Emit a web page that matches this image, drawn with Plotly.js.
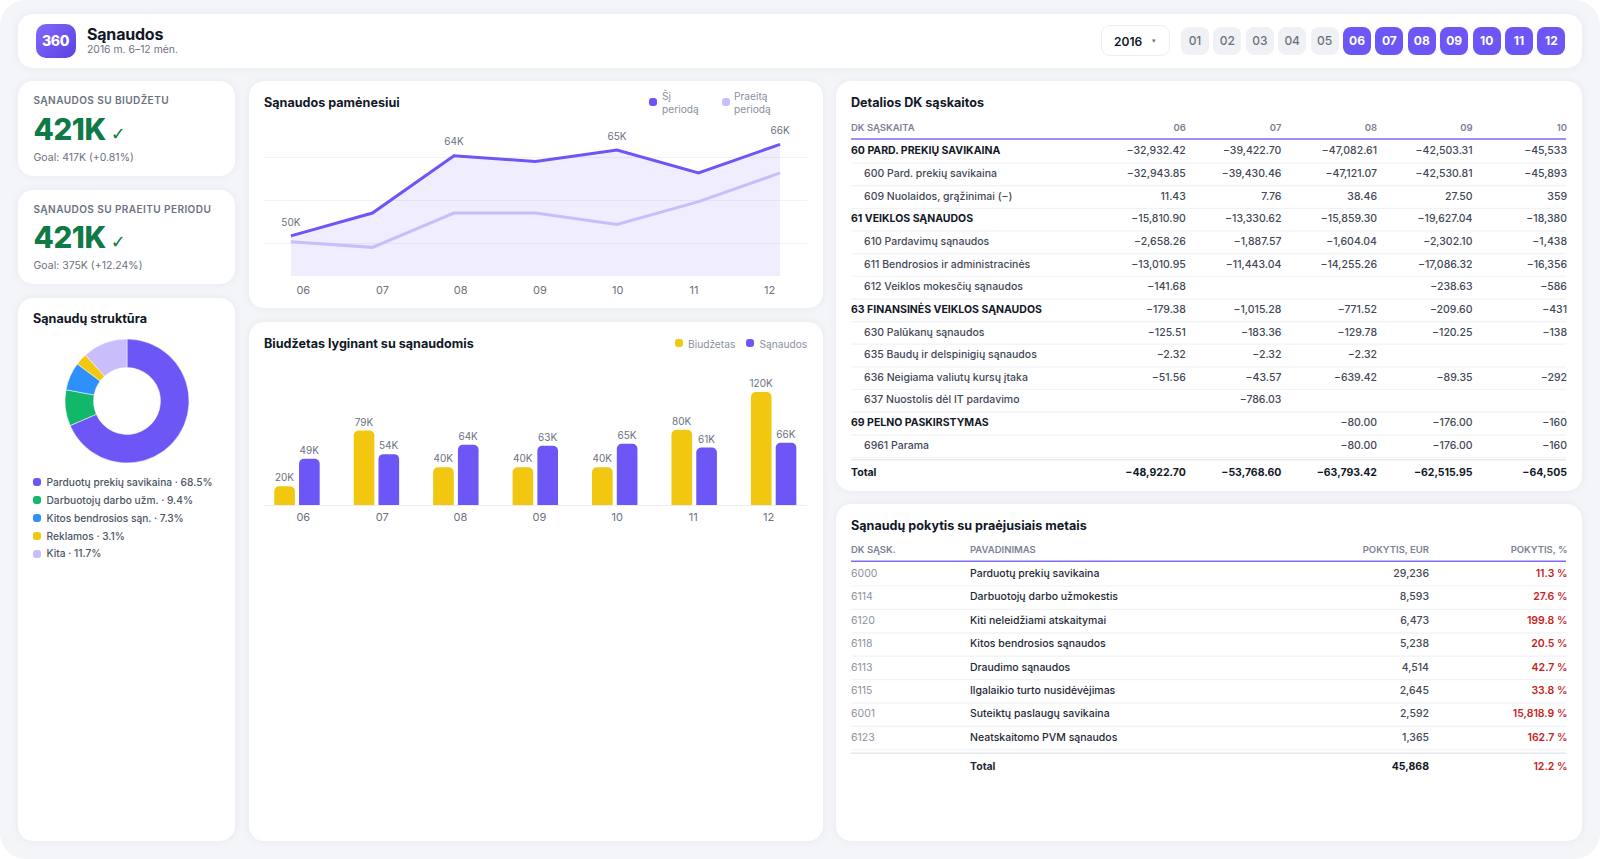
<!DOCTYPE html>
<html lang="lt">
<head>
<meta charset="utf-8">
<title>Sąnaudos</title>
<script src="https://cdn.plot.ly/plotly-3.0.1.min.js"></script>
<style>
  html,body{margin:0;padding:0;background:#fff;width:1600px;height:859px;overflow:hidden;font-family:Inter,"Noto Sans",sans-serif;}
  #app{position:absolute;left:0;top:0;width:1600px;height:859px;background:#f4f5f9;border-radius:26px;overflow:hidden;}
  .card{position:absolute;background:#fff;border-radius:15px;box-shadow:0 0 0 1px #eef0f5,0 0 10px rgba(30,35,70,.06);}
  .plot{position:absolute;left:0;top:0;width:100%;height:100%;}
  .abs{position:absolute;white-space:nowrap;}
  .kpi-label{left:15.5px;font-size:10.05px;font-weight:600;letter-spacing:.42px;color:#6b7280;}
  .kpi-value{left:15.5px;font-size:29.5px;font-weight:800;letter-spacing:-.4px;color:#0f7a46;line-height:36px;}
  .kpi-check{font-family:"DejaVu Sans",sans-serif;font-size:18px;font-weight:400;margin-left:5px;letter-spacing:0;}
  .kpi-goal{left:15.5px;font-size:10.5px;color:#6b7280;}
  .pill{position:absolute;top:13px;width:28px;height:28px;border-radius:8px;line-height:28px;text-align:center;font-size:12px;font-weight:500;color:#6b7280;background:#f0f1f5;}
  .pill.on{background:#6c56f5;color:#fff;font-weight:700;}
  .dot{position:absolute;width:8px;height:8px;border-radius:3px;}
  .lg{position:absolute;font-size:10.2px;color:#8a90a0;line-height:12.6px;white-space:nowrap;}
  .dl{position:absolute;font-size:10.2px;font-weight:500;color:#4b5563;white-space:nowrap;line-height:13px;}
</style>
</head>
<body>
<div id="app">
  <div class="card" style="left:18px;top:14px;width:1564px;height:54px;">
    <div class="abs" style="left:17.5px;top:10px;width:40px;height:34px;border-radius:10px;background:linear-gradient(135deg,#8468fb,#5a41e2);color:#fff;font-size:14px;font-weight:800;line-height:34px;text-align:center;letter-spacing:-.4px;">360</div>
    <div class="abs" style="left:69px;top:10px;font-size:16px;font-weight:700;color:#111827;line-height:20px;letter-spacing:-.2px;">Sąnaudos</div>
    <div class="abs" style="left:69px;top:29px;font-size:10.4px;color:#6b7280;line-height:14px;">2016 m. 6–12 mėn.</div>
    <div class="abs" style="left:1083px;top:11px;width:69px;height:31px;box-sizing:border-box;border:1px solid #eceef3;border-radius:9px;">
      <span class="abs" style="left:12px;top:7.5px;font-size:12px;font-weight:600;color:#111827;line-height:16px;">2016</span>
      <span class="abs" style="left:50px;top:7.5px;font-size:7px;color:#6b7280;line-height:14px;">▾</span>
    </div>
    <div id="pills"></div>
  </div>

  <div class="card" style="left:18px;top:81px;width:217px;height:95px;">
    <div class="abs kpi-label" style="top:13px;">SĄNAUDOS SU BIUDŽETU</div>
    <div class="abs kpi-value" style="top:30px;">421K<span class="kpi-check">✓</span></div>
    <div class="abs kpi-goal" style="top:70px;">Goal: 417K (+0.81%)</div>
  </div>
  <div class="card" style="left:18px;top:190px;width:217px;height:94px;">
    <div class="abs kpi-label" style="top:13px;">SĄNAUDOS SU PRAEITU PERIODU</div>
    <div class="abs kpi-value" style="top:29px;">421K<span class="kpi-check">✓</span></div>
    <div class="abs kpi-goal" style="top:69px;">Goal: 375K (+12.24%)</div>
  </div>

  <div class="card" style="left:18px;top:298px;width:217px;height:543px;">
    <div id="donut" class="plot"></div>
    <div id="donutLegend"></div>
  </div>
  <div class="card" style="left:249px;top:81px;width:574px;height:227px;">
    <div id="line" class="plot"></div>
    <div class="dot" style="left:400px;top:17px;background:#6c56f5;"></div>
    <div class="lg" style="left:413px;top:9px;">Šį<br>periodą</div>
    <div class="dot" style="left:472.5px;top:17px;background:#c9bdfc;"></div>
    <div class="lg" style="left:485px;top:9px;">Praeitą<br>periodą</div>
  </div>
  <div class="card" style="left:249px;top:322px;width:574px;height:519px;">
    <div id="bars" class="plot"></div>
    <div class="dot" style="left:426px;top:17px;background:#f2c70f;"></div>
    <div class="lg" style="left:439px;top:15.5px;">Biudžetas</div>
    <div class="dot" style="left:497px;top:17px;background:#6c56f5;"></div>
    <div class="lg" style="left:510.5px;top:15.5px;">Sąnaudos</div>
  </div>
  <div class="card" style="left:836px;top:81px;width:746px;height:410px;">
    <div id="dkTable" class="plot"></div>
  </div>
  <div class="card" style="left:836px;top:504px;width:746px;height:337px;">
    <div id="changeTable" class="plot"></div>
  </div>
</div>

<script>
// ---------- data ----------
const monthButtons = ['01','02','03','04','05','06','07','08','09','10','11','12'];
const activeMonths = ['06','07','08','09','10','11','12'];
const months = ['06','07','08','09','10','11','12'];

const thisPeriod = [50, 54, 64, 63, 65, 61, 66];
const lastPeriod = [49, 48, 54, 54, 52, 56, 61];
const lineLabels = ['50K','','64K','','65K','','66K'];

const budget = [20, 79, 40, 40, 40, 80, 120];
const spend  = [49, 54, 64, 63, 65, 61, 66];

const donutNames  = ['Parduotų prekių savikaina','Darbuotojų darbo užm.','Kitos bendrosios sąn.','Reklamos','Kita'];
const donutValues = [68.5, 9.4, 7.3, 3.1, 11.7];

const dkHeaders = ['DK SĄSKAITA','06','07','08','09','10'];
const dkRows = ['60 PARD. PREKIŲ SAVIKAINA','600 Pard. prekių savikaina','609 Nuolaidos, grąžinimai (−)','61 VEIKLOS SĄNAUDOS','610 Pardavimų sąnaudos','611 Bendrosios ir administracinės','612 Veiklos mokesčių sąnaudos','63 FINANSINĖS VEIKLOS SĄNAUDOS','630 Palūkanų sąnaudos','635 Baudų ir delspinigių sąnaudos','636 Neigiama valiutų kursų įtaka','637 Nuostolis dėl IT pardavimo','69 PELNO PASKIRSTYMAS','6961 Parama','Total'];
const dk06 = ['−32,932.42','−32,943.85','11.43','−15,810.90','−2,658.26','−13,010.95','−141.68','−179.38','−125.51','−2.32','−51.56','','','','−48,922.70'];
const dk07 = ['−39,422.70','−39,430.46','7.76','−13,330.62','−1,887.57','−11,443.04','','−1,015.28','−183.36','−2.32','−43.57','−786.03','','','−53,768.60'];
const dk08 = ['−47,082.61','−47,121.07','38.46','−15,859.30','−1,604.04','−14,255.26','','−771.52','−129.78','−2.32','−639.42','','−80.00','−80.00','−63,793.42'];
const dk09 = ['−42,503.31','−42,530.81','27.50','−19,627.04','−2,302.10','−17,086.32','−238.63','−209.60','−120.25','','−89.35','','−176.00','−176.00','−62,515.95'];
const dk10 = ['−45,533','−45,893','359','−18,380','−1,438','−16,356','−586','−431','−138','','−292','','−160','−160','−64,505'];

const chHeaders = ['DK SĄSK.','PAVADINIMAS','POKYTIS, EUR','POKYTIS, %'];
const chCodes = ['6000','6114','6120','6118','6113','6115','6001','6123',''];
const chNames = ['Parduotų prekių savikaina','Darbuotojų darbo užmokestis','Kiti neleidžiami atskaitymai','Kitos bendrosios sąnaudos','Draudimo sąnaudos','Ilgalaikio turto nusidėvėjimas','Suteiktų paslaugų savikaina','Neatskaitomo PVM sąnaudos','Total'];
const chEur = ['29,236','8,593','6,473','5,238','4,514','2,645','2,592','1,365','45,868'];
const chPct = ['11.3 %','27.6 %','199.8 %','20.5 %','42.7 %','33.8 %','15,818.9 %','162.7 %','12.2 %'];

// ---------- shared style ----------
const FONT = 'Inter, "Noto Sans", sans-serif';
const PURPLE = '#6c56f5', LAVENDER = '#c9bdfc', YELLOW = '#f2c70f';
const CONFIG = {displayModeBar:false, staticPlot:true, responsive:false};
function cardTitle(text, w, h, x, yc){
  return {text, font:{family:FONT,size:12.6,color:'#111827',weight:700},
    xref:'container', yref:'container', x:x/w, xanchor:'left', y:1-yc/h, yanchor:'middle', pad:{t:0,b:0,l:0,r:0}};
}
const baseLayout = {paper_bgcolor:'rgba(0,0,0,0)', plot_bgcolor:'rgba(0,0,0,0)', showlegend:false, font:{family:FONT}};

// ---------- header pills ----------
document.getElementById('pills').innerHTML = monthButtons.map((m,i)=>
  `<div class="pill ${activeMonths.includes(m)?'on':''}" style="left:${1163+i*32.4}px">${m}</div>`).join('');

// ---------- donut ----------
const donutColors = [PURPLE,'#12b76a','#2e90fa',YELLOW,LAVENDER];
Plotly.newPlot('donut',[{
  type:'pie', labels:donutNames, values:donutValues, hole:.54, sort:false, direction:'clockwise', rotation:0,
  textinfo:'none', marker:{colors:donutColors, line:{color:'#fff',width:.5}}
}],{...baseLayout, width:217, height:543,
  title:cardTitle('Sąnaudų struktūra',217,543,15,20.5),
  margin:{l:46.6,r:46.4,t:40.6,b:378.4}
},CONFIG);
document.getElementById('donutLegend').innerHTML = donutNames.map((n,i)=>{
  const y = 180.3 + i*17.9;
  return `<div class="dot" style="left:15px;top:${y}px;background:${donutColors[i]}"></div>`+
         `<div class="dl" style="left:28.5px;top:${y-2.5}px">${n} · ${donutValues[i]}%</div>`;
}).join('');

// ---------- line chart ----------
const monthIdx = months.map((_,i)=>i);
Plotly.newPlot('line',[
  {type:'scatter', mode:'lines+markers+text', x:monthIdx, y:thisPeriod, text:lineLabels, textposition:'top center',
   textfont:{family:FONT,size:10,color:'#6b7280'}, cliponaxis:false, marker:{size:11,color:'rgba(0,0,0,0)'},
   line:{color:PURPLE,width:3}, fill:'tozeroy', fillcolor:'rgba(108,86,245,.10)', name:'Šį periodą'},
  {type:'scatter', mode:'lines', x:monthIdx, y:lastPeriod, line:{color:LAVENDER,width:3}, name:'Praeitą periodą'}
],{...baseLayout, width:574, height:227,
  title:cardTitle('Sąnaudos pamėnesiui',574,227,15,21.7),
  margin:{l:15,r:15.5,t:45.3,b:32},
  xaxis:{type:'linear', range:[-.33,6.33], tickmode:'array',
    tickvals:[.152,1.122,2.083,3.053,4.009,4.943,5.87], ticktext:months,
    showgrid:false, zeroline:false, showline:false, ticks:'', ticklabelstandoff:6, tickfont:{family:FONT,size:11,color:'#6b7280'}},
  yaxis:{range:[43,69.2], tickmode:'array', tickvals:[48.75,56.25,63.75], showticklabels:false,
    gridcolor:'#f1f2f5', gridwidth:1, zeroline:false, showline:false, ticks:''}
},CONFIG);

// ---------- bar chart ----------
const kLabel = v => v+'K';
const barText = {family:FONT,size:10,color:'#6b7280'};
Plotly.newPlot('bars',[
  {type:'bar', x:monthIdx, y:budget, name:'Biudžetas', marker:{color:YELLOW}, text:budget.map(kLabel), textposition:'outside', textfont:barText, cliponaxis:false, constraintext:'none'},
  {type:'bar', x:monthIdx, y:spend, name:'Sąnaudos', marker:{color:PURPLE}, text:spend.map(kLabel), textposition:'outside', textfont:barText, cliponaxis:false, constraintext:'none'}
],{...baseLayout, width:574, height:519,
  title:cardTitle('Biudžetas lyginant su sąnaudomis',574,519,15,21.3),
  barmode:'group', bargap:.376, bargroupgap:.167, barcornerradius:5,
  margin:{l:15,r:15.5,t:38,b:336},
  xaxis:{type:'linear', range:[-.415,6.42], tickmode:'array',
    tickvals:[.079,1.073,2.058,3.052,4.031,4.988,5.938], ticktext:months,
    showgrid:false, zeroline:false, showline:true, linecolor:'#eceef3', linewidth:1, ticks:'', ticklabelstandoff:2,
    tickfont:{family:FONT,size:11,color:'#6b7280'}},
  yaxis:{range:[0,154], showgrid:false, zeroline:false, showticklabels:false, ticks:''}
},CONFIG);

// ---------- table helpers (each column is a text trace on linear axes) ----------
function column(x, ys, texts, anchor, size, colors, weights){
  return {type:'scatter', mode:'text', x:ys.map(()=>x), y:ys, text:texts, textposition:anchor==='r'?'middle left':'middle right',
    cliponaxis:false, textfont:{family:FONT,size,color:colors,weight:weights}};
}
function ruleShape(y,color,width){
  return {type:'line', xref:'x', x0:0, x1:715, yref:'y', y0:y, y1:y, line:{color,width}, layer:'below'};
}
const RULE = '#f1f2f6';

// ---------- DK table ----------
(function(){
  const w=746,h=410, n=dkRows.length;
  const rowY = dkRows.map((_,i)=> i===n-1 ? 14.22 : i);
  const isGroup = s => /^\d\d /.test(s);
  const isTotal = s => s==='Total';
  const strong = dkRows.map(s=>isGroup(s)||isTotal(s));
  const labels = dkRows.map((s,i)=> (strong[i]?'':'\u00A0\u00A0\u00A0\u00A0\u2009')+s);
  const colRight=[334.8,430.4,526,621.5,716];
  const cols=[dk06,dk07,dk08,dk09,dk10];
  const valWeights = dkRows.map(s=> isTotal(s)?700:500);
  const valColors  = dkRows.map(s=> isTotal(s)?'#111827':'#3f4856');
  const traces=[column(0,rowY,labels,'l',10.5,strong.map(b=>b?'#111827':'#3f4856'),strong.map(b=>b?700:500))];
  cols.forEach((c,k)=>traces.push(column(colRight[k],rowY,c,'r',10.5,valColors,valWeights)));
  const hy=-1.013;
  traces.push(column(0,[hy],[dkHeaders[0]],'l',9.5,['#7b8194'],[600]));
  colRight.forEach((x,k)=>traces.push(column(x,[hy],[dkHeaders[k+1]],'r',9.5,['#7b8194'],[600])));
  Plotly.newPlot('dkTable',traces,{...baseLayout,width:w,height:h,
    title:cardTitle('Detalios DK sąskaitos',w,h,15,21.7),
    margin:{l:15,r:14,t:0,b:0},
    xaxis:{range:[0,717],visible:false},
    yaxis:{range:[14.98,-3.12],visible:false},
    shapes:[...dkRows.slice(0,n-1).map((_,i)=>ruleShape(i+.5,RULE,1.2)),ruleShape(-.56,'#7c6af7',1.4),ruleShape(13.6,'#e6e8ee',1.4)]
  },CONFIG);
})();

// ---------- change table ----------
(function(){
  const w=746,h=337, n=chNames.length;
  const rowY = chNames.map((_,i)=> i===n-1 ? 8.25 : i);
  const bold = chNames.map((_,i)=>i===n-1);
  const colX=[0,119,578,716.5];
  const traces=[
    column(colX[0],rowY,chCodes,'l',10.5,chCodes.map(()=>'#8b92a0'),chCodes.map(()=>400)),
    column(colX[1],rowY,chNames,'l',10.5,chNames.map(()=>'#1f2937'),bold.map(b=>b?700:500)),
    column(colX[2],rowY,chEur,'r',10.5,bold.map(b=>b?'#111827':'#3f4856'),bold.map(b=>b?700:500)),
    column(colX[3],rowY,chPct,'r',10.5,chPct.map(()=>'#c81e1e'),chPct.map(()=>600))
  ];
  const hy=-1.0;
  colX.forEach((x,k)=>traces.push(column(x,[hy],[chHeaders[k]],k<2?'l':'r',9.5,['#7b8194'],[600])));
  Plotly.newPlot('changeTable',traces,{...baseLayout,width:w,height:h,
    title:cardTitle('Sąnaudų pokytis su praėjusiais metais',w,h,15,21.3),
    margin:{l:15,r:14,t:0,b:0},
    xaxis:{range:[0,717],visible:false},
    yaxis:{range:[11.40,-3.006],visible:false},
    shapes:[...chNames.slice(0,n-1).map((_,i)=>ruleShape(i+.5,RULE,1.2)),ruleShape(-.56,'#7c6af7',1.4),ruleShape(7.65,'#e6e8ee',1.4)]
  },CONFIG);
})();
</script>
</body>
</html>
